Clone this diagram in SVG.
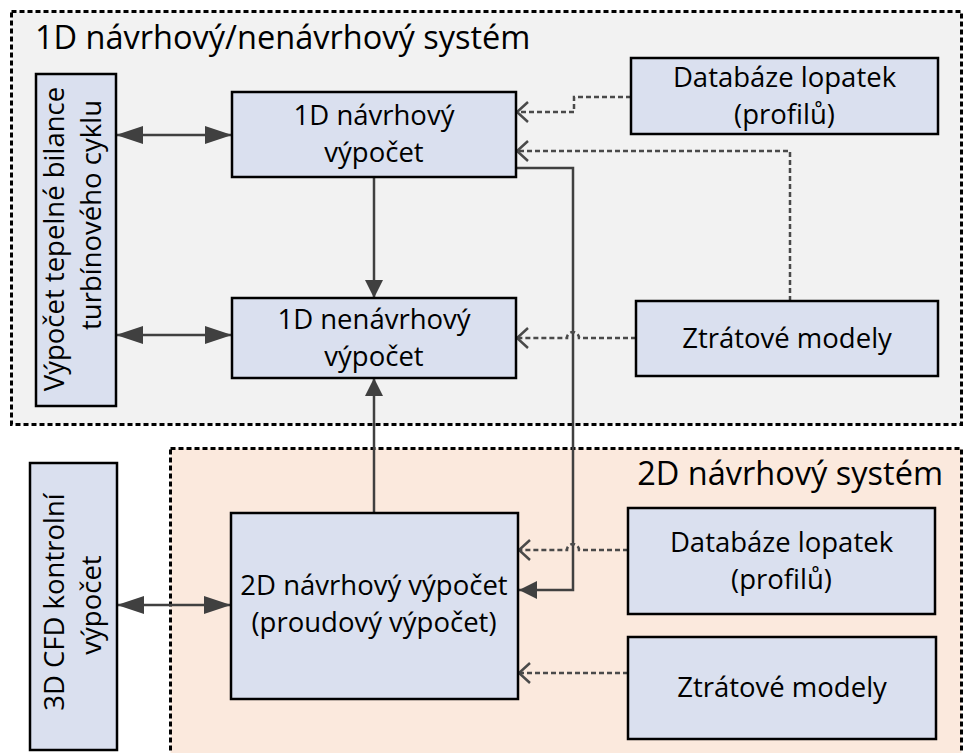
<svg xmlns="http://www.w3.org/2000/svg" width="964" height="753" viewBox="0 0 964 753">
<style>
.region{stroke:#000;stroke-width:3;stroke-dasharray:5 3}
.box{fill:#dae0ef;stroke:#000;stroke-width:2.5}
.t{font-family:"Open Sans","Noto Sans",sans-serif;font-size:27.5px;fill:#000;text-anchor:middle}
.big{font-family:"Open Sans","Noto Sans",sans-serif;font-size:32.5px;fill:#000}
.solid{fill:none;stroke:#404040;stroke-width:2.5}
.dash{fill:none;stroke:#4a4a4a;stroke-width:2.5;stroke-dasharray:5 3}
</style>
<defs>
<marker id="big" viewBox="0 0 27 18" refX="27" refY="9" markerWidth="27" markerHeight="18" markerUnits="userSpaceOnUse" orient="auto-start-reverse">
<path d="M0,0 L27,9 L0,18 Z" fill="#404040"/>
</marker>
<marker id="fill" viewBox="0 0 18 18" refX="18" refY="9" markerWidth="18" markerHeight="18" markerUnits="userSpaceOnUse" orient="auto">
<path d="M0,0 L18,9 L0,18 Z" fill="#404040"/>
</marker>
<marker id="open" viewBox="0 0 14 22" refX="12" refY="11" markerWidth="14" markerHeight="22" markerUnits="userSpaceOnUse" orient="auto">
<path d="M1,1 L12,11 L1,21" fill="none" stroke="#4a4a4a" stroke-width="2.5"/>
</marker>
</defs>
<rect width="964" height="753" fill="#fff"/>
<g id="region-1d">
<rect class="region" x="11.5" y="11.5" width="950" height="413" fill="#f2f2f2"/>
<text class="big" x="35" y="49">1D návrhový/nenávrhový systém</text>
</g>
<g id="region-2d">
<rect class="region" x="170.5" y="448.5" width="791" height="320" fill="#fbe9dd"/>
<text class="big" x="943" y="485" text-anchor="end">2D návrhový systém</text>
</g>
<g id="connectors">
<line class="solid" x1="116" y1="135" x2="232" y2="135" marker-start="url(#big)" marker-end="url(#big)"/>
<line class="solid" x1="116" y1="335" x2="232" y2="335" marker-start="url(#big)" marker-end="url(#big)"/>
<line class="solid" x1="117" y1="605" x2="231" y2="605" marker-start="url(#big)" marker-end="url(#big)"/>
<line class="solid" x1="374" y1="177" x2="374" y2="298" marker-end="url(#fill)"/>
<line class="solid" x1="374" y1="513" x2="374" y2="378" marker-end="url(#fill)"/>
<path class="solid" d="M516,168 H573 V590 H519" marker-end="url(#fill)"/>
<path class="dash" d="M631,97 H574 V112 H517" marker-end="url(#open)"/>
<path class="dash" d="M790,301 V151 H517" marker-end="url(#open)"/>
<path class="dash" d="M636,338 H579 A6,6 0 0 0 567,338 H517" marker-end="url(#open)"/>
<path class="dash" d="M628,550 H579 A6,6 0 0 0 567,550 H519" marker-end="url(#open)"/>
<path class="dash" d="M628,673 H519" marker-end="url(#open)"/>
</g>
<g id="node-bilance">
<rect class="box" x="36" y="74" width="80" height="332"/>
<text class="t" transform="translate(64,239) rotate(-90)">Výpočet tepelné bilance</text>
<text class="t" transform="translate(101,215) rotate(-90)">turbínového cyklu</text>
</g>
<g id="node-1d-navrh">
<rect class="box" x="232" y="92" width="284" height="85"/>
<text class="t" x="374" y="125">1D návrhový</text>
<text class="t" x="374" y="162">výpočet</text>
</g>
<g id="node-1d-nenavrh">
<rect class="box" x="232" y="298" width="284" height="80"/>
<text class="t" x="374" y="329">1D nenávrhový</text>
<text class="t" x="374" y="366">výpočet</text>
</g>
<g id="node-db-1">
<rect class="box" x="631" y="58" width="307" height="76"/>
<text class="t" x="784.5" y="87">Databáze lopatek</text>
<text class="t" x="784.5" y="124">(profilů)</text>
</g>
<g id="node-ztraty-1">
<rect class="box" x="636" y="301" width="302" height="75"/>
<text class="t" x="787" y="348">Ztrátové modely</text>
</g>
<g id="node-cfd">
<rect class="box" x="30" y="463" width="87" height="287"/>
<text class="t" transform="translate(64,602) rotate(-90)">3D CFD kontrolní</text>
<text class="t" transform="translate(101,605) rotate(-90)">výpočet</text>
</g>
<g id="node-2d">
<rect class="box" x="231" y="513" width="287" height="186"/>
<text class="t" x="374" y="595">2D návrhový výpočet</text>
<text class="t" x="374" y="632">(proudový výpočet)</text>
</g>
<g id="node-db-2">
<rect class="box" x="628" y="508" width="307" height="106"/>
<text class="t" x="781.5" y="552">Databáze lopatek</text>
<text class="t" x="781.5" y="589">(profilů)</text>
</g>
<g id="node-ztraty-2">
<rect class="box" x="628" y="637" width="308" height="102"/>
<text class="t" x="782" y="697">Ztrátové modely</text>
</g>
</svg>
